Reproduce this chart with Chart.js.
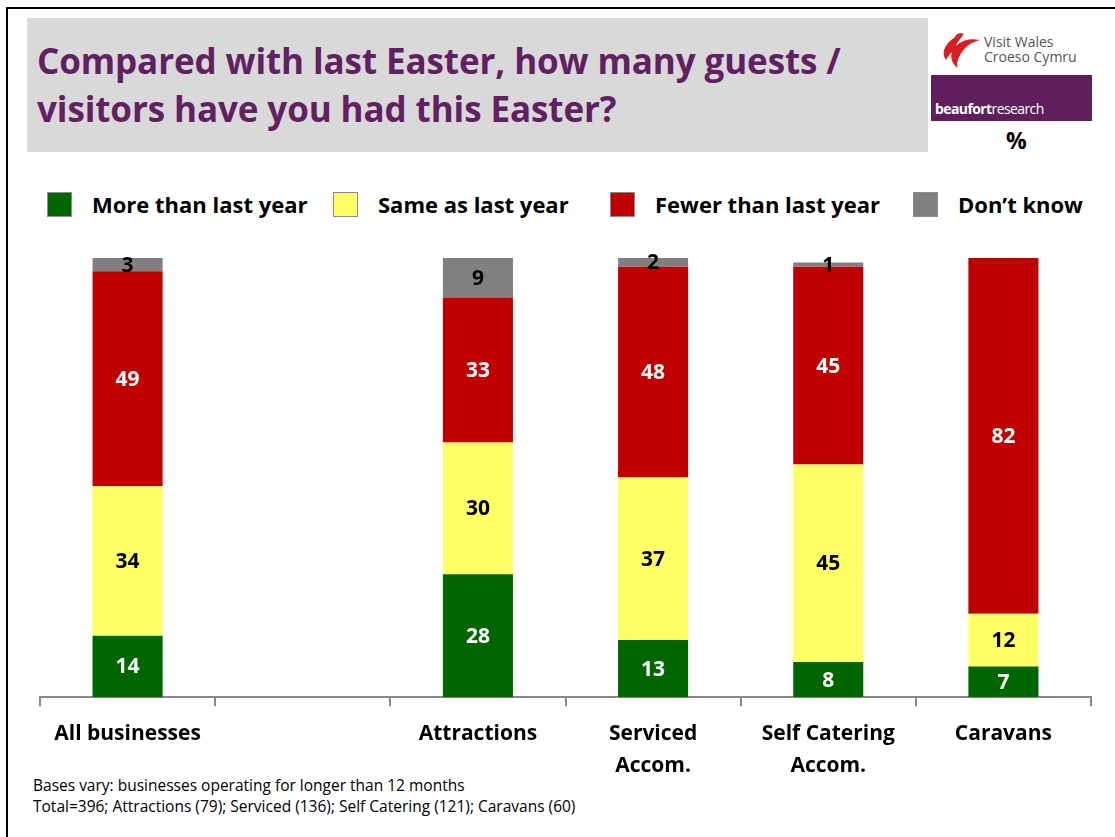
<!DOCTYPE html>
<html>
<head>
<meta charset="utf-8">
<script src="https://cdn.jsdelivr.net/npm/chart.js@4/dist/chart.umd.min.js"></script>
<style>
  html, body { margin: 0; padding: 0; background: #fff; }
  body { width: 1115px; height: 837px; position: relative; overflow: hidden;
         font-family: "Open Sans", sans-serif; }
  .frame { position: absolute; left: 6px; top: 7px; width: 1200px; height: 900px;
           border-left: 2px solid #000; border-top: 2px solid #000; }
  .titlebox { position: absolute; left: 27px; top: 18px; width: 901px; height: 134px; background: #d9d9d9; }
  .title { position: absolute; left: 37px; top: 37px; color: #612062; font-weight: bold;
           font-size: 35px; line-height: 48px; letter-spacing: -0.1px; }
  .vw { position: absolute; left: 940px; top: 30px; }
  .vw-text { position: absolute; left: 984px; top: 34px; color: #555; font-size: 14px; line-height: 15px; }
  .beau { position: absolute; left: 931px; top: 75px; width: 161px; height: 46px; background: #5e1f5c; }
  .beau span { position: absolute; left: 4px; bottom: 3px; color: #fff; font-size: 14px; letter-spacing: -0.6px; }
  .pct { position: absolute; left: 1006px; top: 124px; font-size: 23px; font-weight: bold; color: #000; }
  .legend { position: absolute; top: 192px; left: 0; font-size: 22px; font-weight: bold; color: #000; }
  .legend div { position: absolute; white-space: nowrap; }
  .legend i { position: absolute; top: 0; width: 23px; height: 23px; border: 1px solid #8c8c8c; }
  .legend span { position: absolute; top: -3px; }
  .foot { position: absolute; left: 33px; top: 775px; font-size: 15.5px; line-height: 21px; color: #000; }
  canvas { position: absolute; left: 0; top: 0; }
</style>
</head>
<body>
<div class="frame"></div>
<div class="titlebox"></div>
<div class="title">Compared with last Easter, how many guests /<br>visitors have you had this Easter?</div>
<svg class="vw" width="42" height="40" viewBox="0 0 42 40">
  <path d="M4 20 C8 10 16 6 24 4 C20 9 17 12 16 16 C22 10 30 8 40 10 C32 12 26 16 22 22 C18 28 16 34 18 38 C12 34 10 28 12 22 C10 24 8 26 6 30 C4 27 3 24 4 20 Z" fill="#d91e25"/>
  <path d="M14 8 C16 4 20 2 24 4 C20 5 17 6 14 8 Z" fill="#b51218"/>
</svg>
<div class="vw-text">Visit Wales<br>Croeso Cymru</div>
<div class="beau"><span><b>beaufort</b>research</span></div>
<div class="pct">%</div>
<div class="legend" id="legend"></div>
<div class="foot">Bases vary: businesses operating for longer than 12 months<br>Total=396; Attractions (79); Serviced (136); Self Catering (121); Caravans (60)</div>
<canvas id="chart" width="1115" height="837"></canvas>
<script>
const categories = [
  'All businesses',
  '',
  'Attractions',
  ['Serviced', 'Accom.'],
  ['Self Catering', 'Accom.'],
  'Caravans'
];
const seriesNames = ['More than last year', 'Same as last year', 'Fewer than last year', 'Don\u2019t know'];
const moreThan  = [14, null, 28, 13, 8, 7];
const sameAs    = [34, null, 30, 37, 45, 12];
const fewerThan = [49, null, 33, 48, 45, 82];
const dontKnow  = [3, null, 9, 2, 1, 0];
const colours = ['#006600', '#ffff66', '#c00000', '#808080'];
const labelColours = ['#ffffff', '#000000', '#ffffff', '#000000'];
const legendX = [47, 333, 610, 913];

// legend built from the series names
const legendEl = document.getElementById('legend');
seriesNames.forEach((name, i) => {
  const d = document.createElement('div');
  d.style.left = legendX[i] + 'px';
  d.innerHTML = '<i style="background:' + colours[i] + '"></i><span style="left:45px">' + name + '</span>';
  legendEl.appendChild(d);
});

const valueLabels = {
  id: 'valueLabels',
  afterDatasetsDraw(chart) {
    const ctx = chart.ctx;
    ctx.save();
    ctx.font = 'bold 21px "Open Sans", sans-serif';
    ctx.textAlign = 'center';
    ctx.textBaseline = 'middle';
    chart.data.datasets.forEach((ds, di) => {
      chart.getDatasetMeta(di).data.forEach((bar, i) => {
        const v = ds.data[i];
        if (!v) return;
        ctx.fillStyle = labelColours[di];
        const top = Math.max(bar.y, chart.chartArea.top);
        ctx.fillText(String(v), bar.x, (top + bar.base) / 2 + 1);
      });
    });
    ctx.restore();
  }
};

const series = [moreThan, sameAs, fewerThan, dontKnow];
new Chart(document.getElementById('chart'), {
  type: 'bar',
  data: {
    labels: categories,
    datasets: series.map((d, i) => ({
      label: seriesNames[i],
      data: d,
      backgroundColor: colours[i],
      borderWidth: 0,
      barPercentage: 0.4,
      categoryPercentage: 1
    }))
  },
  options: {
    responsive: false,
    animation: false,
    layout: { padding: { left: 40, right: 24, top: 258, bottom: 43 } },
    plugins: { legend: { display: false }, tooltip: { enabled: false } },
    scales: {
      x: {
        stacked: true,
        offset: true,
        border: { display: true, color: '#898989', width: 2 },
        grid: { offset: true, drawOnChartArea: false, drawTicks: true, tickLength: 9, color: '#898989', lineWidth: 2 },
        ticks: {
          color: '#000',
          padding: 12,
          maxRotation: 0,
          autoSkip: false,
          font: { family: '"Open Sans", sans-serif', size: 21, weight: 'bold', lineHeight: 1.52 }
        }
      },
      y: { stacked: true, display: false, min: 0, max: 100 }
    }
  },
  plugins: [valueLabels]
});
</script>
</body>
</html>
